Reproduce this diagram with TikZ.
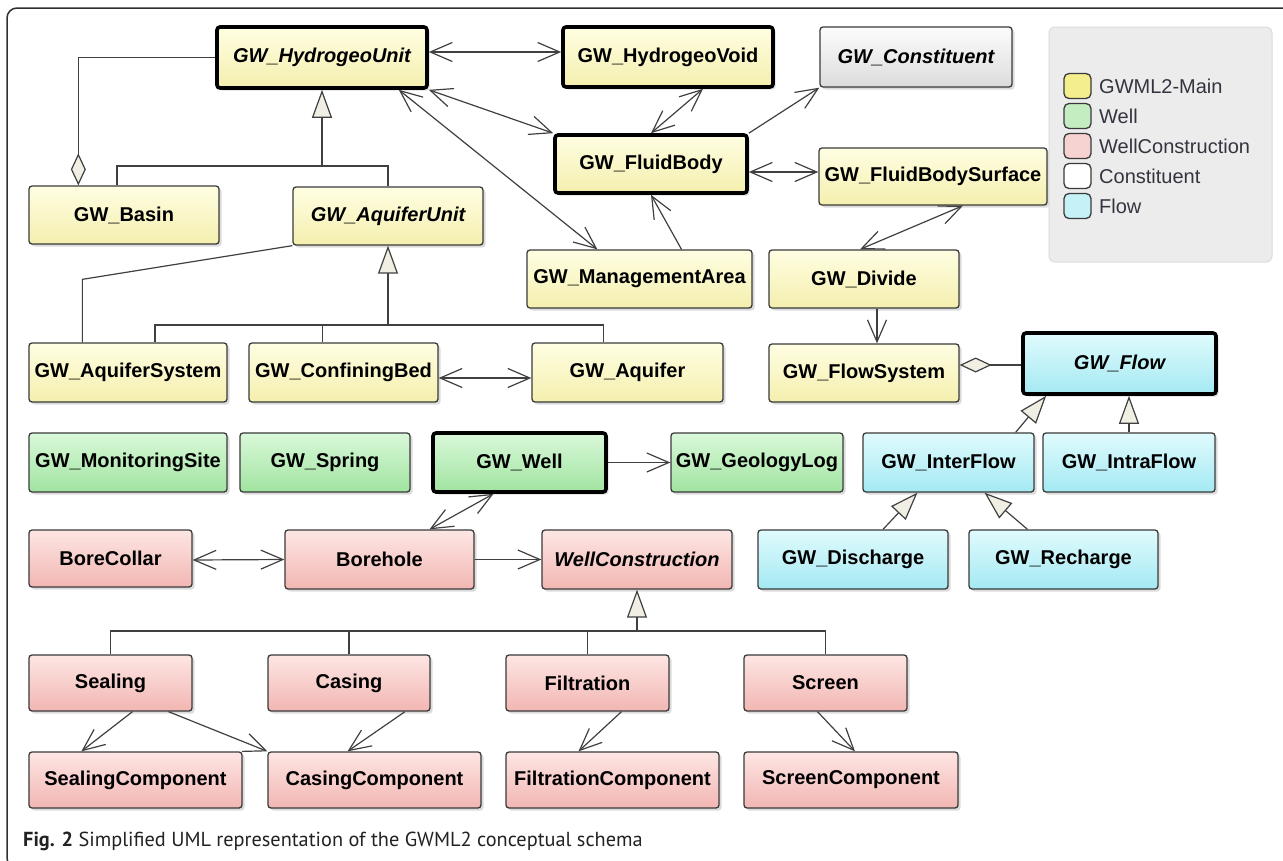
\documentclass[tikz,border=0pt]{standalone}
\usepackage{fontspec}
\newfontfamily\umlfont{Liberation Sans}
\newfontfamily\capfont{PT Sans}
\usetikzlibrary{arrows.meta,shadows,calc}

% class fills (top / bottom of the gradient)
\definecolor{ytop}{HTML}{FFFEE2}\definecolor{ybot}{HTML}{F4EFAE}
\definecolor{gtop}{HTML}{DAF8DA}\definecolor{gbot}{HTML}{A0E4A0}
\definecolor{ptop}{HTML}{FDE6E4}\definecolor{pbot}{HTML}{F2B6B2}
\definecolor{ctop}{HTML}{E0FBFD}\definecolor{cbot}{HTML}{A4E9F2}
\definecolor{wtop}{HTML}{FCFCFC}\definecolor{wbot}{HTML}{DCDCDC}
% legend swatches
\definecolor{sy}{HTML}{F4EE8C}\definecolor{sg}{HTML}{C4EEC2}
\definecolor{sp}{HTML}{F6D2D0}\definecolor{sc}{HTML}{C4F2F6}
\definecolor{boxline}{HTML}{3A3A3A}
\definecolor{lnc}{HTML}{404040}
\definecolor{genfill}{HTML}{F1EEE4}
\definecolor{legbg}{HTML}{ECECEC}
\definecolor{legline}{HTML}{DCDCDC}
\definecolor{legtext}{HTML}{34343F}
\definecolor{framec}{HTML}{303030}
\definecolor{capc}{HTML}{222222}

% class box from its corners: [style]{name}{x1}{y1}{x2}{y2}{label}
\newcommand\umlbox[7][]{%
  \pgfmathsetmacro\bw{#5-#3}\pgfmathsetmacro\bh{#6-#4}%
  \pgfmathsetmacro\bx{(#3+#5)/2}\pgfmathsetmacro\by{(#4+#6)/2}%
  \node[cls,#1,minimum width=\bw pt,minimum height=\bh pt] (#2) at (\bx,\by) {#7};}

\begin{document}
\begin{tikzpicture}[x=1pt,y=-1pt,
  >={Straight Barb[length=22pt,width=19pt]},
  cls/.style={draw=boxline,line width=1.3pt,rounded corners=3pt,inner sep=0pt,
    font=\umlfont\bfseries\fontsize{20pt}{24pt}\selectfont,
    drop shadow={shadow xshift=2.5pt,shadow yshift=-2.5pt,opacity=.28}},
  key/.style={draw=black,line width=3.6pt},
  abs/.style={font=\umlfont\bfseries\itshape\fontsize{20pt}{24pt}\selectfont},
  mainc/.style={top color=ytop,bottom color=ybot},
  wellc/.style={top color=gtop,bottom color=gbot},
  wconc/.style={top color=ptop,bottom color=pbot},
  flowc/.style={top color=ctop,bottom color=cbot},
  constc/.style={top color=wtop,bottom color=wbot},
  assoc/.style={draw=lnc,line width=1.2pt},
  bi/.style={assoc,<->},
  uni/.style={assoc,->},
  gen/.style={assoc,-{Triangle[length=28pt,width=20pt,fill=genfill]}},
  agg/.style={assoc,{Diamond[length=32pt,width=15pt,fill=genfill]}-},
  swatch/.style={draw=boxline,line width=1.3pt,rounded corners=5pt,
    minimum width=27pt,minimum height=25pt,inner sep=0pt},
  legtxt/.style={anchor=west,inner sep=0pt,text=legtext,
    font=\umlfont\fontsize{20pt}{24pt}\selectfont},
  frame/.style={draw=framec,line width=1.5pt,rounded corners=10pt}]

\useasboundingbox (0,0) rectangle (1283,860);
\fill[white] (0,0) rectangle (1283,860);

% outer frame
\draw[frame] (1300,8) -- (7,8) -- (7,868) -- (30,868);

% ---- GWML2 main package ----
\umlbox[mainc,key,abs]{hu}{217}{27}{427}{88}{GW\_HydrogeoUnit}
\umlbox[mainc,key]{hv}{563}{27}{773}{87}{GW\_HydrogeoVoid}
\umlbox[constc,abs]{con}{820}{27}{1012}{87}{GW\_Constituent}
\umlbox[mainc,key]{fb}{555}{135}{747}{193}{GW\_FluidBody}
\umlbox[mainc]{fbs}{819}{148}{1047}{205}{GW\_FluidBodySurface}
\umlbox[mainc]{bas}{29}{186}{219}{244}{GW\_Basin}
\umlbox[mainc,abs]{au}{293}{187}{483}{245}{GW\_AquiferUnit}
\umlbox[mainc]{ma}{527}{250}{752}{308}{GW\_ManagementArea}
\umlbox[mainc]{div}{769}{250}{959}{308}{GW\_Divide}
\umlbox[mainc]{as}{29}{343}{227}{402}{GW\_AquiferSystem}
\umlbox[mainc]{cb}{249}{343}{438}{402}{GW\_ConfiningBed}
\umlbox[mainc]{aq}{532}{343}{723}{402}{GW\_Aquifer}
\umlbox[mainc]{fs}{769}{344}{959}{402}{GW\_FlowSystem}

% ---- flow package ----
\umlbox[flowc,key,abs]{fl}{1023}{333}{1216}{394}{GW\_Flow}
\umlbox[flowc]{inter}{863}{433}{1034}{492}{GW\_InterFlow}
\umlbox[flowc]{intra}{1043}{433}{1215}{492}{GW\_IntraFlow}
\umlbox[flowc]{dis}{758}{530}{948}{589}{GW\_Discharge}
\umlbox[flowc]{rec}{969}{530}{1158}{589}{GW\_Recharge}

% ---- well package ----
\umlbox[wellc]{ms}{29}{433}{227}{492}{GW\_MonitoringSite}
\umlbox[wellc]{spr}{240}{433}{410}{492}{GW\_Spring}
\umlbox[wellc,key]{well}{433}{433}{606}{492}{GW\_Well}
\umlbox[wellc]{gl}{671}{433}{843}{492}{GW\_GeologyLog}

% ---- well construction package ----
\umlbox[wconc]{bc}{29}{530}{192}{587}{BoreCollar}
\umlbox[wconc]{bh}{285}{530}{474}{589}{Borehole}
\umlbox[wconc,abs]{wc}{542}{530}{732}{589}{WellConstruction}
\umlbox[wconc]{seal}{29}{655}{192}{711}{Sealing}
\umlbox[wconc]{cas}{268}{655}{430}{711}{Casing}
\umlbox[wconc]{fil}{506}{655}{669}{711}{Filtration}
\umlbox[wconc]{scr}{744}{655}{907}{711}{Screen}
\umlbox[wconc]{sco}{29}{752}{242}{808}{SealingComponent}
\umlbox[wconc]{cco}{268}{752}{481}{808}{CasingComponent}
\umlbox[wconc]{fco}{506}{752}{719}{808}{FiltrationComponent}
\umlbox[wconc]{scro}{744}{752}{958}{808}{ScreenComponent}

% ---- associations ----
\draw[bi] ([yshift=5.5pt]hu.east) -- ([yshift=5pt]hv.west);
\draw[bi] (hu.south east) -- (fb.north west);
\draw[bi] ([xshift=-30pt]hu.south east) -- ([xshift=71pt]ma.north west);
\draw[bi] ([xshift=35pt]hv.south) -- (fb.north);
\draw[uni] (fb.north east) -- (con.south west);
\draw[bi] ([yshift=-8pt]fb.east) -- ([yshift=4.5pt]fbs.west);
\draw[uni] ([xshift=42pt]ma.north) -- (fb.south);
\draw[bi] ([xshift=30pt]fbs.south) -- ([xshift=-4pt]div.north);
\draw[uni] ([xshift=13pt]div.south) -- ([xshift=13pt]fs.north);
\draw[agg] ([yshift=8pt]fs.east) -- ([yshift=-1.5pt]fl.west);
\draw[agg] ([xshift=50pt]bas.north west) |- (hu.west);
\draw[bi] ([yshift=-5.5pt]cb.east) -- ([yshift=-5.5pt]aq.west);
\draw[uni] (well.east) -- (gl.west);
\draw[bi] ([xshift=-26pt]well.south) -- ([xshift=50pt]bh.north);
\draw[bi] ([yshift=-1.5pt]bc.east) -- (bh.west);
\draw[uni] (bh.east) -- (wc.west);
\draw[uni] ([xshift=22pt]seal.south) -- ([xshift=53pt]sco.north west);
\draw[uni] ([xshift=58pt]seal.south) -- (cco.north west);
\draw[uni] ([xshift=56pt]cas.south) -- ([xshift=-27pt]cco.north);
\draw[uni] ([xshift=34pt]fil.south) -- ([xshift=-34pt]fco.north);
\draw[uni] ([xshift=-8pt]scr.south) -- ([xshift=4pt]scro.north);

% ---- generalisations ----
\coordinate (j1) at (322,166);
\coordinate (basd) at ([xshift=-7pt]bas.north);
\draw[assoc] (basd) |- (au.north |- j1) -- (au.north);
\draw[gen] (j1) -- (hu.south);

\draw[assoc] (au.south west) -- ([xshift=54pt,yshift=63pt]as.north west) -- ([xshift=54pt]as.north west);

\coordinate (j2) at (388,325);
\coordinate (asd) at ([xshift=27pt]as.north);
\coordinate (cbd) at ([xshift=-21pt]cb.north);
\coordinate (aqd) at ([xshift=-24pt]aq.north);
\draw[assoc] (asd) |- (aqd |- j2) -- (aqd);
\draw[assoc] (cbd) -- (cbd |- j2);
\draw[gen] (j2) -- (au.south);

\draw[gen] ([xshift=-19pt]inter.north east) -- ([xshift=25pt]fl.south west);
\draw[gen] (intra.north) -- (intra.north |- fl.south);
\draw[gen] ([xshift=30pt]dis.north) -- ([xshift=-31pt]inter.south);
\draw[gen] ([xshift=-36pt]rec.north) -- ([xshift=36pt]inter.south);

\coordinate (j3) at (637,631);
\draw[assoc] (seal.north) |- (scr.north |- j3) -- (scr.north);
\draw[assoc] (cas.north) -- (cas.north |- j3);
\draw[assoc] (fil.north) -- (fil.north |- j3);
\draw[gen] (j3) -- (wc.south);

% ---- legend ----
\node[draw=legline,fill=legbg,line width=1pt,rounded corners=6pt,
  minimum width=223pt,minimum height=235pt,inner sep=0pt] (leg) at (1160.5,144.5) {};
\node[swatch,fill=sy] (s1) at (1077.5,86) {};
\node[swatch,fill=sg] (s2) at (1077.5,116) {};
\node[swatch,fill=sp] (s3) at (1077.5,146) {};
\node[swatch,fill=white] (s4) at (1077.5,176) {};
\node[swatch,fill=sc] (s5) at (1077.5,206) {};
\node[legtxt] (l1) at (1099,86) {GWML2-Main};
\node[legtxt] (l2) at (1099,116) {Well};
\node[legtxt] (l3) at (1099,146) {WellConstruction};
\node[legtxt] (l4) at (1099,176) {Constituent};
\node[legtxt] (l5) at (1099,206) {Flow};

% ---- caption ----
\node[anchor=base west,inner sep=0pt,text=capc,
  font=\capfont\fontsize{20.3pt}{24pt}\selectfont] (cap) at (23,846)
  {\textbf{Fig. 2} Simplified UML representation of the GWML2 conceptual schema};
\end{tikzpicture}
\end{document}
